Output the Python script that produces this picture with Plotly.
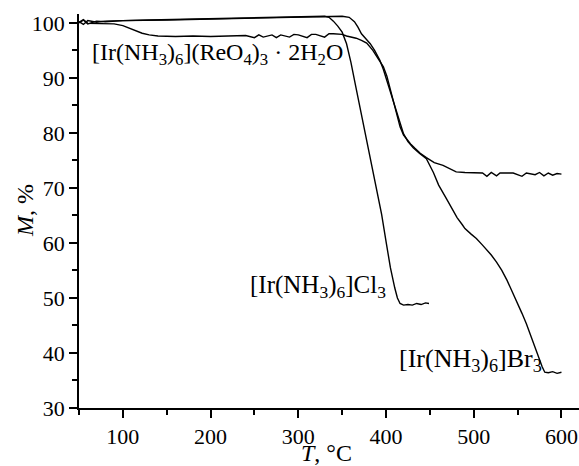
import plotly.graph_objects as go

# thermogravimetric curves, temperature (°C) vs mass (%)
t_cl = [50, 55, 60, 70, 80, 100, 130, 160, 200, 230, 260, 300, 320, 330, 335, 340, 345, 350,
        355, 360, 365, 370, 375, 380, 385, 390, 395, 400, 405, 410, 413, 416, 420, 425, 430,
        435, 440, 445, 449]
m_cl = [100.0, 100.5, 99.8, 100.3, 100.2, 100.4, 100.5, 100.6, 100.8, 100.9, 101.0, 101.1,
        101.2, 101.2, 101.0, 100.3, 99.4, 98.3, 96.2, 92.8, 88.8, 84.8, 80.9, 77.0, 73.0, 69.0,
        65.2, 60.3, 55.5, 51.8, 50.0, 49.0, 48.7, 48.8, 48.7, 49.0, 48.8, 49.1, 49.0]

t_br = [50, 55, 60, 70, 80, 100, 150, 200, 250, 300, 330, 350, 358, 364, 368, 372, 377, 382,
        387, 393, 397, 401, 405, 408, 411, 414, 417, 420, 425, 431, 438, 446, 454, 460, 469,
        475, 481, 487, 490, 497, 503, 510, 515, 520, 526, 532, 538, 545, 550, 555, 560, 564,
        569, 574, 578, 581, 585, 590, 595, 600]
m_br = [100.2, 99.7, 100.4, 100.1, 100.3, 100.4, 100.5, 100.7, 100.9, 101.1, 101.2, 101.2,
        101.0, 100.2, 99.2, 98.0, 97.1, 96.2, 95.0, 93.2, 91.5, 89.5, 87.5, 86.0, 84.5, 82.9,
        81.3, 79.8, 78.4, 77.3, 76.3, 75.3, 72.8, 70.5, 68.0, 66.2, 64.6, 63.3, 62.6, 61.6,
        60.8, 59.6, 58.7, 57.8, 56.5, 55.0, 53.2, 50.8, 49.0, 47.2, 45.3, 43.5, 41.3, 39.2,
        37.5, 36.5, 36.4, 36.6, 36.3, 36.5]

t_re = [50, 55, 60, 75, 90, 100, 108, 115, 122, 130, 140, 160, 180, 200, 220, 240, 250, 255,
        260, 270, 275, 280, 290, 295, 300, 310, 315, 320, 330, 335, 340, 345, 350, 355, 360,
        366, 372, 378, 385, 391, 397, 401, 405, 408, 410, 413, 416, 420, 424, 428, 433, 439,
        446, 455, 465, 472, 480, 490, 500, 510, 515, 520, 526, 530, 545, 555, 560, 570, 575,
        580, 585, 590, 595, 600]
m_re = [100.1, 100.6, 99.9, 99.9, 99.8, 99.5, 99.0, 98.5, 98.1, 97.8, 97.6, 97.5, 97.6, 97.5,
        97.6, 97.7, 97.3, 97.8, 97.4, 97.8, 97.3, 97.8, 97.4, 97.9, 97.8, 97.3, 97.9, 97.9,
        97.4, 98.0, 98.0, 97.9, 97.9, 97.6, 97.4, 97.2, 96.8, 96.3, 95.0, 93.5, 92.0, 90.3,
        87.8, 86.2, 84.7, 82.9, 81.1, 79.6, 78.7, 78.0, 77.2, 76.3, 75.5, 74.6, 74.1, 73.6,
        72.9, 72.8, 72.8, 72.7, 72.1, 72.8, 72.2, 72.7, 72.7, 72.1, 72.7, 72.4, 72.8, 72.2,
        72.7, 72.3, 72.6, 72.5]

lbl_re = "[Ir(NH<sub>3</sub>)<sub>6</sub>](ReO<sub>4</sub>)<sub>3</sub> · 2H<sub>2</sub>O"
lbl_cl = "[Ir(NH<sub>3</sub>)<sub>6</sub>]Cl<sub>3</sub>"
lbl_br = "[Ir(NH<sub>3</sub>)<sub>6</sub>]Br<sub>3</sub>"

fig = go.Figure()
for t, m in [(t_re, m_re), (t_cl, m_cl), (t_br, m_br)]:
    fig.add_trace(go.Scatter(x=t, y=m, mode="lines",
                             line=dict(color="black", width=1.4), showlegend=False))

fig.add_annotation(x=62, y=94.4, text=lbl_re, showarrow=False,
                   xanchor="left", yanchor="middle", font=dict(size=24))
fig.add_annotation(x=402, y=52.1, text=lbl_cl, showarrow=False,
                   xanchor="right", yanchor="middle", font=dict(size=25))
fig.add_annotation(x=580, y=38.7, text=lbl_br, showarrow=False,
                   xanchor="right", yanchor="middle", font=dict(size=26))

# axis titles as free text so they sit where the original has them
fig.add_annotation(xref="paper", yref="paper", x=-0.108, y=0.5, text="<i>M</i>, %",
                   textangle=-90, showarrow=False, xanchor="center", yanchor="middle",
                   font=dict(family="Liberation Serif", size=24))
fig.add_annotation(xref="paper", yref="paper", x=0.495, y=-0.114, text="<i>T</i>, °C",
                   showarrow=False, xanchor="center", yanchor="middle",
                   font=dict(family="Liberation Serif", size=24))

fig.update_layout(
    width=579, height=466,
    margin=dict(l=79, r=0, t=14, b=58),
    plot_bgcolor="white", paper_bgcolor="white",
    font=dict(family="Liberation Serif", size=22, color="black"),
)
fig.update_xaxes(range=[50, 620], dtick=100, tick0=0, showgrid=False, zeroline=False,
                 showline=True, linecolor="black", linewidth=1.5,
                 ticks="outside", ticklen=8, tickwidth=1.5, tickcolor="black",
                 minor=dict(dtick=50, ticks="outside", ticklen=5, tickwidth=1.5,
                            tickcolor="black", showgrid=False))
fig.update_yaxes(range=[30, 101.6], dtick=10, tick0=0, showgrid=False, zeroline=False,
                 showline=True, linecolor="black", linewidth=1.5,
                 ticks="outside", ticklen=8, tickwidth=1.5, tickcolor="black",
                 minor=dict(dtick=5, ticks="outside", ticklen=5, tickwidth=1.5,
                            tickcolor="black", showgrid=False))

# page body margin would shift the figure by 8px
fig.write_html("out.html", config={"displayModeBar": False},
               post_script="document.body.style.margin='0';")
